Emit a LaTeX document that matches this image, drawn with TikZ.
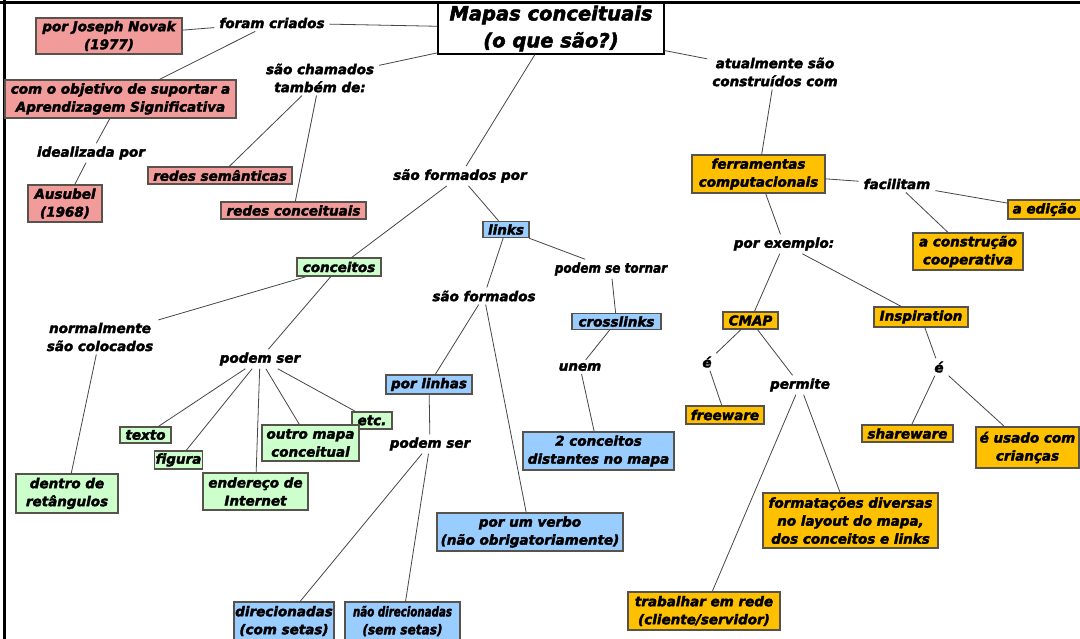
\documentclass[tikz,border=0pt]{standalone}
\usepackage{fontspec}
\setmainfont{DejaVu Sans}[BoldItalicFeatures={FakeBold=2.5}]
\definecolor{pinkfill}{RGB}{242,155,155}
\definecolor{greenfill}{RGB}{204,255,204}
\definecolor{bluefill}{RGB}{153,204,255}
\definecolor{goldfill}{RGB}{255,192,0}
\definecolor{boxline}{RGB}{88,82,76}
\definecolor{linkgray}{RGB}{70,70,70}
\newcommand{\squeeze}[2]{\scalebox{#1}[1]{#2}}
\begin{document}
\begin{tikzpicture}[x=1pt,y=-1pt,
  every node/.style={font=\fontsize{13.5}{18}\selectfont\bfseries\itshape, align=center, text=black},
  box/.style={draw=boxline, line width=1.3pt, inner sep=1pt},
  pinkbox/.style={box, fill=pinkfill},
  greenbox/.style={box, fill=greenfill},
  bluebox/.style={box, fill=bluefill},
  goldbox/.style={box, fill=goldfill},
  titlebox/.style={draw=black, line width=1.3pt, fill=white, inner sep=1pt,
    font=\fontsize{19.5}{27}\selectfont\bfseries\itshape},
  lbl/.style={inner xsep=5pt, inner ysep=3pt},
  link/.style={draw=linkgray, line width=0.8pt}
]
\useasboundingbox (0,0) rectangle (1080,639);
\fill[white] (0,0) rectangle (1080,639);

% frame along the top and left edges
\draw[line width=3pt, black] (0,3) -- (1080,3);
\draw[line width=3pt, black] (4.5,0) -- (4.5,639);

% central concept
\node[titlebox, minimum width=226pt, minimum height=51pt] (mapas) at (551,28.5) {Mapas conceituais\\(o que são?)};

% origin branch (pink)
\node[pinkbox, minimum width=146pt, minimum height=36pt] (novak) at (109,36) {por Joseph Novak\\(1977)};
\node[lbl] (foram) at (272,23) {foram criados};
\node[pinkbox, minimum width=231pt, minimum height=38pt] (objetivo) at (120.5,99) {com o objetivo de suportar a\\Aprendizagem Significativa};
\node[lbl] (idealizada) at (91,153) {idealizada por};
\node[pinkbox, minimum width=74pt, minimum height=37pt] (ausubel) at (65,203.5) {Ausubel\\(1968)};
\node[lbl] (chamados) at (320,78) {são chamados\\também de:};
\node[pinkbox, minimum width=144pt, minimum height=17pt] (semanticas) at (220,175.5) {redes semânticas};
\node[pinkbox, minimum width=145pt, minimum height=17pt] (conceituais) at (293.5,210.5) {redes conceituais};

% structure branch
\node[lbl] (formadospor) at (460,176) {são formados por};

% concepts (green)
\node[greenbox, minimum width=84pt, minimum height=18pt] (conceitos) at (339,267) {conceitos};
\node[lbl] (normalmente) at (100,337) {normalmente\\são colocados};
\node[greenbox, minimum width=102pt, minimum height=39pt] (dentro) at (67,493.5) {dentro de\\retângulos};
\node[lbl] (podemser1) at (260,359) {podem ser};
\node[greenbox, minimum width=51pt, minimum height=16pt] (texto) at (145.5,435) {texto};
\node[greenbox, minimum width=47pt, minimum height=18pt] (figura) at (178.5,460) {figura};
\node[greenbox, minimum width=105pt, minimum height=37pt] (endereco) at (255.5,491.5) {endereço de\\Internet};
\node[greenbox, minimum width=40pt, minimum height=17pt] (etc) at (372,420.5) {etc.};
\node[greenbox, minimum width=97pt, minimum height=36pt] (outro) at (310.5,443) {outro mapa\\conceitual};

% links (blue)
\node[bluebox, minimum width=46pt, minimum height=16pt] (links) at (506,229.5) {links};
\node[lbl] (formados) at (484,296) {são formados};
\node[lbl] (tornar) at (611,269) {\squeeze{0.89}{podem se tornar}};
\node[bluebox, minimum width=89pt, minimum height=16pt] (crosslinks) at (616.5,321.5) {crosslinks};
\node[lbl] (unem) at (580,367) {unem};
\node[bluebox, minimum width=151pt, minimum height=38pt] (distantes) at (598.5,451) {2 conceitos\\distantes no mapa};
\node[bluebox, minimum width=186pt, minimum height=38pt] (verbo) at (530,532) {por um verbo\\(não obrigatoriamente)};
\node[bluebox, minimum width=86pt, minimum height=19pt] (porlinhas) at (429,384.5) {por linhas};
\node[lbl] (podemser2) at (430,444) {podem ser};
\node[bluebox, minimum width=100pt, minimum height=38pt] (direcionadas) at (284,621) {direcionadas\\(com setas)};
\node[bluebox, minimum width=115pt, minimum height=38pt] (naodirecionadas) at (402.5,621) {\squeeze{0.76}{não direcionadas}\\\squeeze{0.9}{(sem setas)}};

% tools branch (gold)
\node[lbl] (atualmente) at (775,72) {atualmente são\\construídos com};
\node[goldbox, minimum width=133pt, minimum height=38pt] (ferramentas) at (758.5,174) {ferramentas\\computacionais};
\node[lbl] (facilitam) at (897,184) {facilitam};
\node[goldbox, minimum width=73pt, minimum height=19pt] (edicao) at (1044.5,209.5) {a edição};
\node[goldbox, minimum width=110pt, minimum height=37pt] (construcao) at (968,251.5) {a construção\\cooperativa};
\node[lbl] (exemplo) at (784,244) {por exemplo:};
\node[goldbox, minimum width=55pt, minimum height=17pt] (cmap) at (750.5,320.5) {CMAP};
\node[goldbox, minimum width=94pt, minimum height=20pt] (inspiration) at (921,317) {Inspiration};
\node[lbl] (ecmap) at (707,362) {é};
\node[goldbox, minimum width=78pt, minimum height=18pt] (freeware) at (725,415) {freeware};
\node[lbl] (permite) at (800,385) {permite};
\node[lbl] (einsp) at (939,367) {é};
\node[goldbox, minimum width=91pt, minimum height=17pt] (shareware) at (907.5,433.5) {shareware};
\node[goldbox, minimum width=103pt, minimum height=41pt] (criancas) at (1027.5,447.5) {é usado com\\crianças};
\node[goldbox, minimum width=175pt, minimum height=55pt] (formatacoes) at (850.5,520.5) {formatações diversas\\no layout do mapa,\\dos conceitos e links};
\node[goldbox, minimum width=152pt, minimum height=38pt] (trabalhar) at (704,611) {trabalhar em rede\\(cliente/servidor)};

% connectors
\draw[link] (novak) -- (foram);
\draw[link] (foram) -- (mapas);
\draw[link] (foram) -- (objetivo);
\draw[link] (objetivo) -- (idealizada);
\draw[link] (idealizada) -- (ausubel);
\draw[link] (mapas) -- (chamados);
\draw[link] (chamados) -- (semanticas);
\draw[link] (chamados) -- (conceituais);
\draw[link] (mapas) -- (formadospor);
\draw[link] (formadospor) -- (conceitos);
\draw[link] (formadospor) -- (links);
\draw[link] (conceitos) -- (normalmente);
\draw[link] (normalmente) -- (dentro);
\draw[link] (conceitos) -- (podemser1);
\draw[link] (podemser1) -- (texto);
\draw[link] (podemser1) -- (figura);
\draw[link] (podemser1) -- (endereco);
\draw[link] (podemser1) -- (outro);
\draw[link] (podemser1) -- (etc);
\draw[link] (links) -- (formados);
\draw[link] (links) -- (tornar);
\draw[link] (tornar) -- (crosslinks);
\draw[link] (crosslinks) -- (unem);
\draw[link] (unem) -- (distantes);
\draw[link] (formados) -- (porlinhas);
\draw[link] (formados) -- (verbo);
\draw[link] (porlinhas) -- (podemser2);
\draw[link] (podemser2) -- (direcionadas);
\draw[link] (podemser2) -- (naodirecionadas);
\draw[link] (mapas) -- (atualmente);
\draw[link] (atualmente) -- (ferramentas);
\draw[link] (ferramentas) -- (facilitam);
\draw[link] (facilitam) -- (edicao);
\draw[link] (facilitam) -- (construcao);
\draw[link] (ferramentas) -- (exemplo);
\draw[link] (exemplo) -- (cmap);
\draw[link] (exemplo) -- (inspiration);
\draw[link] (cmap) -- (ecmap);
\draw[link] (ecmap) -- (freeware);
\draw[link] (cmap) -- (permite);
\draw[link] (permite) -- (trabalhar);
\draw[link] (permite) -- (formatacoes);
\draw[link] (inspiration) -- (einsp);
\draw[link] (einsp) -- (shareware);
\draw[link] (einsp) -- (criancas);
\end{tikzpicture}
\end{document}
